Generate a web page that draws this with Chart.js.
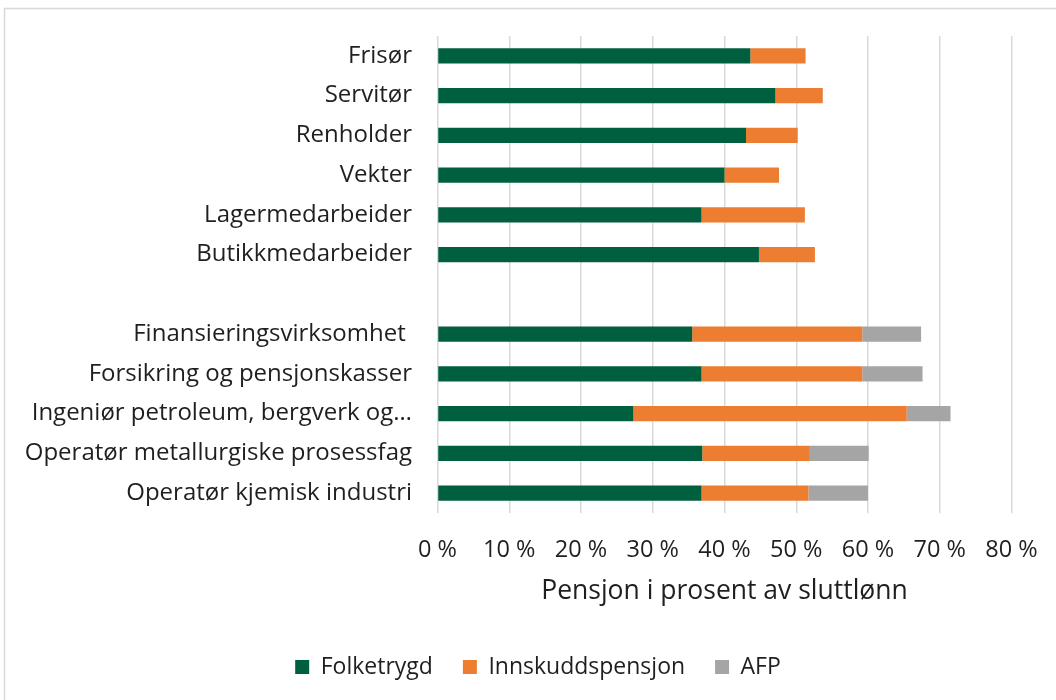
<!DOCTYPE html>
<html>
<head>
<meta charset="utf-8">
<script src="https://cdn.jsdelivr.net/npm/chart.js@4.4.1/dist/chart.umd.min.js"></script>
<style>
  html, body { margin: 0; padding: 0; background: #ffffff; }
  #wrap { position: relative; width: 1056px; height: 700px; }
</style>
</head>
<body>
<div id="wrap"><canvas id="c" width="1056" height="700"></canvas></div>
<script>
const categories = [
  "Frisør",
  "Servitør",
  "Renholder",
  "Vekter",
  "Lagermedarbeider",
  "Butikkmedarbeider",
  "",
  "Finansieringsvirksomhet ",
  "Forsikring og pensjonskasser",
  "Ingeniør petroleum, bergverk og…",
  "Operatør metallurgiske prosessfag",
  "Operatør kjemisk industri"
];
const folketrygd = [43.6, 47.1, 43.0, 40.0, 36.8, 44.8, null, 35.5, 36.8, 27.3, 36.9, 36.8];
const innskuddspensjon = [7.7, 6.6, 7.2, 7.6, 14.4, 7.8, null, 23.7, 22.4, 38.1, 15.0, 14.9];
const afp = [0, 0, 0, 0, 0, 0, null, 8.2, 8.4, 6.1, 8.2, 8.3];
const seriesNames = ["Folketrygd", "Innskuddspensjon", "AFP"];
const xTicks = [0, 10, 20, 30, 40, 50, 60, 70, 80];
const axisTitle = "Pensjon i prosent av sluttlønn";

const FONT = "'Open Sans', 'Noto Sans', sans-serif";
const TEXT = "#1f1f1f";

const borderPlugin = {
  id: 'outerBorder',
  beforeDraw(chart) {
    const ctx = chart.ctx;
    ctx.save();
    ctx.fillStyle = '#ffffff';
    ctx.fillRect(0, 0, chart.width, chart.height);
    ctx.strokeStyle = '#d9d9d9';
    ctx.lineWidth = 1.5;
    ctx.strokeRect(4.5, 8.5, 1200, 900);
    ctx.restore();
  }
};

new Chart(document.getElementById('c'), {
  type: 'bar',
  data: {
    labels: categories,
    datasets: [
      { label: seriesNames[0], data: folketrygd, backgroundColor: '#005f3e', borderWidth: 0 },
      { label: seriesNames[1], data: innskuddspensjon, backgroundColor: '#ed7d31', borderWidth: 0 },
      { label: seriesNames[2], data: afp, backgroundColor: '#a5a5a5', borderWidth: 0 }
    ]
  },
  options: {
    indexAxis: 'y',
    responsive: false,
    animation: false,
    devicePixelRatio: 1,
    datasets: { bar: { categoryPercentage: 1, barPercentage: 0.38 } },
    layout: { padding: { top: 36, right: 0, bottom: 11.5, left: 20 } },
    plugins: {
      legend: {
        position: 'bottom',
        labels: {
          font: { family: FONT, size: 23 },
          color: TEXT,
          boxWidth: 14,
          boxHeight: 14,
          padding: 30
        }
      },
      tooltip: { enabled: false },
      title: { display: false }
    },
    scales: {
      x: {
        stacked: true,
        min: 0,
        max: 80,
        afterBuildTicks(scale) { scale.ticks = xTicks.map(v => ({ value: v })); },
        afterFit(scale) {
          scale.height = 112.5;
          scale.paddingLeft = 0;
          scale.paddingRight = 44.5;
        },
        grid: { color: '#d9d9d9', lineWidth: 1.5, drawTicks: false },
        border: { display: false },
        ticks: {
          padding: 23.5,
          color: TEXT,
          font: { family: FONT, size: 23.5 },
          maxRotation: 0,
          callback: v => v + ' %'
        },
        title: {
          display: true,
          text: axisTitle,
          color: TEXT,
          font: { family: FONT, size: 26.5 },
          padding: { top: 4, bottom: 18.5 }
        }
      },
      y: {
        stacked: true,
        afterFit(scale) {
          scale.width = 417.5;
          scale.paddingTop = 0;
          scale.paddingBottom = 0;
        },
        grid: { display: false, drawTicks: false },
        border: { display: false },
        ticks: {
          padding: 25.5,
          color: TEXT,
          font: { family: FONT, size: 24 },
          autoSkip: false
        }
      }
    }
  },
  plugins: [borderPlugin]
});
</script>
</body>
</html>
